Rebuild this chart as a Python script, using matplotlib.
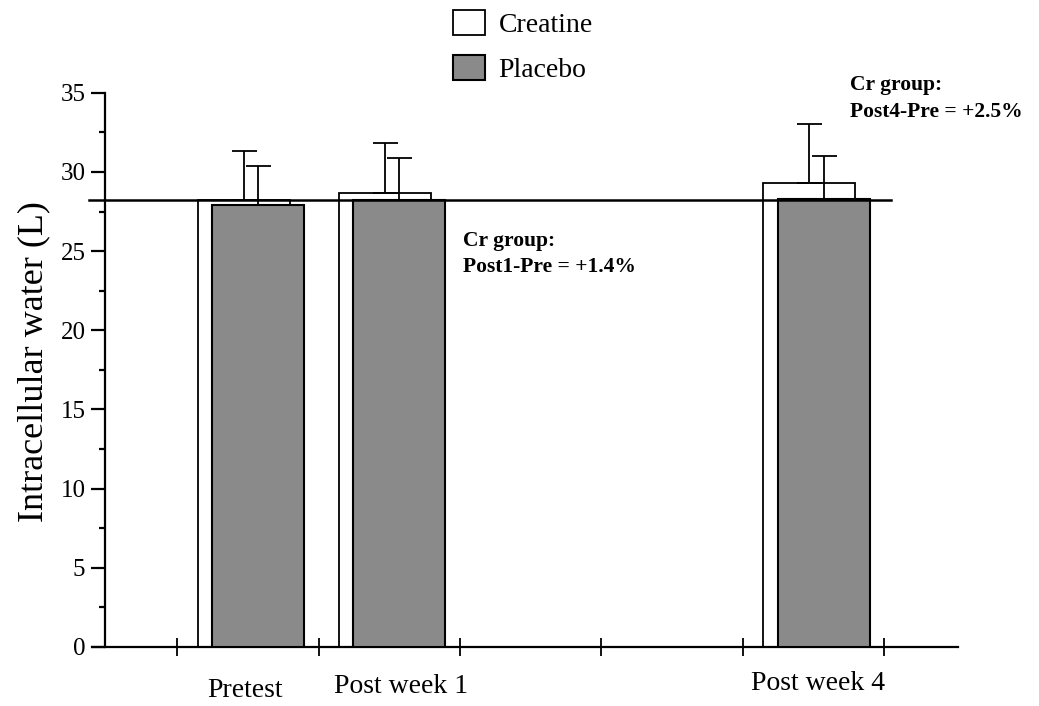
import matplotlib
matplotlib.use("Agg")
import matplotlib.pyplot as plt
from matplotlib.ticker import MultipleLocator
import numpy as np

plt.rcParams['font.family'] = ['Liberation Serif', 'DejaVu Serif']

# data
groups = ["Pretest", "Post week 1", "Post week 4"]
creatine = [28.2, 28.7, 29.3]
creatine_sd = [3.1, 3.1, 3.7]
placebo = [27.9, 28.2, 28.3]
placebo_sd = [2.5, 2.7, 2.7]
notes = ["Cr group:\nPost1-Pre = +1.4%", "Cr group:\nPost4-Pre = +2.5%"]

# layout (x positions on the time axis)
x = np.array([1.5, 2.5, 5.5])
w = 0.65

fig = plt.figure(figsize=(10.39, 7.06), dpi=100)
ax = fig.add_axes([0.101, 0.0836, 0.821, 0.785])

ax.bar(x - 0.03, creatine, w, color="white", edgecolor="black", lw=1.3,
       zorder=2, label="Creatine")
ax.bar(x + 0.07, placebo, w, color="#8a8a8a", edgecolor="black", lw=1.5,
       zorder=3, label="Placebo")

ax.errorbar(x - 0.03, creatine, yerr=[np.zeros(3), creatine_sd], fmt="none",
            ecolor="black", elinewidth=1.3, capsize=9, capthick=1.3, zorder=4)
ax.errorbar(x + 0.07, placebo, yerr=[np.zeros(3), placebo_sd], fmt="none",
            ecolor="black", elinewidth=1.3, capsize=9, capthick=1.3, zorder=4)

# reference line at the creatine pretest value
ax.plot([0.38, 6.05], [creatine[0], creatine[0]], color="black", lw=1.8,
        clip_on=False, zorder=5)

ax.set_xlim(0.49, 6.52)
ax.set_ylim(0, 35)
ax.spines["top"].set_visible(False)
ax.spines["right"].set_visible(False)
ax.spines["left"].set_linewidth(1.6)
ax.spines["bottom"].set_linewidth(1.6)
ax.spines["bottom"].set_bounds(0.4, 6.52)

ax.set_xticks(np.arange(1, 7))
ax.set_xticklabels([])
ax.tick_params(axis="x", direction="inout", length=13, width=1.3)
ax.yaxis.set_major_locator(MultipleLocator(5))
ax.yaxis.set_minor_locator(MultipleLocator(2.5))
ax.tick_params(axis="y", which="major", direction="out", length=10,
               width=1.6, labelsize=18, pad=4)
ax.tick_params(axis="y", which="minor", direction="out", length=4, width=1.6)

ax.set_ylabel("Intracellular water (L)", fontsize=26)
ax.yaxis.set_label_coords(-0.064, 0.515)

label_x = [1.48, 2.58, 5.53]
label_y = [-0.078, -0.072, -0.066]
for lx, ly, g in zip(label_x, label_y, groups):
    ax.text(lx, ly, g, transform=ax.get_xaxis_transform(),
            ha="center", va="center", fontsize=20)

ax.text(3.02, 26.3, notes[0], ha="left", va="top", fontsize=15.5,
        fontweight="bold", linespacing=1.45)
ax.text(5.76, 36.1, notes[1], ha="left", va="top", fontsize=15.5,
        fontweight="bold", linespacing=1.45)

fig.legend(loc="upper left", bbox_to_anchor=(0.417, 1.013), frameon=False,
           fontsize=20, handlelength=1.15, handleheight=1.0,
           handletextpad=0.5, labelspacing=0.6, borderpad=0.2)

fig.savefig("out.png", dpi=100)
